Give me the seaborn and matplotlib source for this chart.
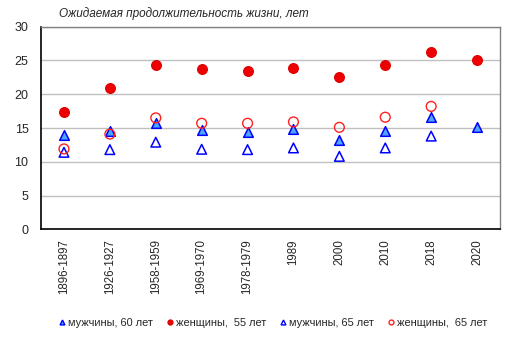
import matplotlib
matplotlib.use("Agg")
import matplotlib.pyplot as plt
import seaborn as sns
import pandas as pd
from matplotlib.lines import Line2D

categories = ["1896-1897", "1926-1927", "1958-1959", "1969-1970", "1978-1979",
              "1989", "2000", "2010", "2018", "2020"]
men_60 = [14.0, 14.5, 15.8, 14.7, 14.35, 14.85, 13.2, 14.5, 16.6, 15.1]
women_55 = [17.4, 20.9, 24.3, 23.7, 23.5, 23.9, 22.6, 24.3, 26.3, 25.1]
men_65 = [11.4, 11.8, 12.9, 11.85, 11.8, 12.05, 10.8, 12.05, 13.8, None]
women_65 = [11.9, 14.1, 16.5, 15.7, 15.7, 15.9, 15.1, 16.6, 18.2, None]

labels = ["мужчины, 60 лет", "женщины,  55 лет", "мужчины, 65 лет", "женщины,  65 лет"]
title = "Ожидаемая продолжительность жизни, лет"
yticks = [0, 5, 10, 15, 20, 25, 30]

sns.set_theme(style="white")
plt.rcParams["font.family"] = ["Liberation Sans", "DejaVu Sans"]

df = pd.DataFrame({"cat": categories, "m60": men_60, "w55": women_55,
                   "m65": men_65, "w65": women_65})

fig = plt.figure(figsize=(5.14, 3.39), dpi=100)
ax = fig.add_axes([0.0798, 0.3236, 0.8930, 0.5976])

styles = {
    "m60": dict(marker="^", s=48, color="#4da6ff", edgecolor="#0000ff", linewidth=1.1),
    "w55": dict(marker="o", s=50, color="#ee0000", edgecolor="#dd0000", linewidth=0.8),
    "m65": dict(marker="^", s=48, color="none", edgecolor="#0000ff", linewidth=1.1),
    "w65": dict(marker="o", s=50, color="none", edgecolor="#ff2020", linewidth=1.0),
}
for key in ["m60", "w55", "m65", "w65"]:
    sub = df[["cat", key]].dropna()
    st = styles[key]
    sns.scatterplot(x=[categories.index(c) for c in sub["cat"]], y=sub[key].values, ax=ax,
                    marker=st["marker"], s=st["s"], facecolors=st["color"],
                    edgecolors=st["edgecolor"], linewidths=st["linewidth"], zorder=3,
                    legend=False)

ax.set_xlim(-0.5, len(categories) - 0.5)
ax.set_ylim(0, 30)
ax.set_yticks(yticks)
ax.set_yticklabels([str(v) for v in yticks], fontsize=9)
ax.set_xticks(range(len(categories)))
ax.set_xticklabels(categories, rotation=90, fontsize=8.3)
ax.tick_params(axis="both", length=0, pad=9)
ax.tick_params(axis="x", pad=7)
ax.yaxis.grid(True, color="#c0c0c0", linewidth=1)
ax.set_axisbelow(True)
for side in ["left", "bottom"]:
    ax.spines[side].set_color("black")
    ax.spines[side].set_linewidth(1.2)
for side in ["top", "right"]:
    ax.spines[side].set_color("#808080")
    ax.spines[side].set_linewidth(1)
ax.set_xlabel("")
ax.set_ylabel("")

fig.text(59 / 514, 1 - 14 / 339, title, fontsize=8.5, style="italic",
         va="center", ha="left")

handles = [
    Line2D([], [], linestyle="none", marker="^", markersize=3.5, markerfacecolor="#4da6ff",
           markeredgecolor="#0000ff", markeredgewidth=1),
    Line2D([], [], linestyle="none", marker="o", markersize=3.5, markerfacecolor="#ee0000",
           markeredgecolor="#dd0000"),
    Line2D([], [], linestyle="none", marker="^", markersize=3.5, markerfacecolor="none",
           markeredgecolor="#0000ff", markeredgewidth=1),
    Line2D([], [], linestyle="none", marker="o", markersize=3.5, markerfacecolor="none",
           markeredgecolor="#ff2020", markeredgewidth=1),
]
fig.legend(handles, labels, loc="center", bbox_to_anchor=(273 / 514, 1 - 323 / 339),
           ncol=4, frameon=False, fontsize=7.9, handlelength=0.5, handletextpad=0.3,
           columnspacing=1.3, borderpad=0)

fig.savefig("out.png", dpi=100)
